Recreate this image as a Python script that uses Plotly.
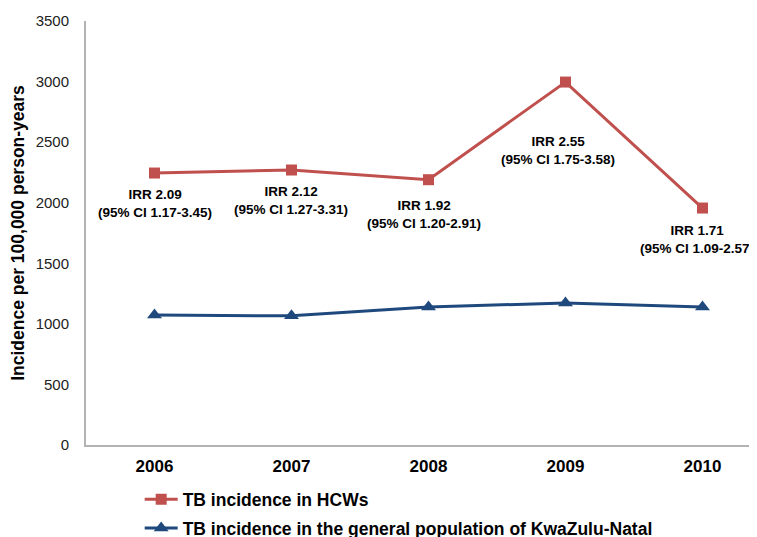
import plotly.graph_objects as go

years = ["2006", "2007", "2008", "2009", "2010"]
hcw = [2245, 2270, 2190, 2996, 1956]
general = [1073, 1066, 1140, 1172, 1140]
irr_labels = [
    "IRR 2.09<br>(95% CI 1.17-3.45)",
    "IRR 2.12<br>(95% CI 1.27-3.31)",
    "IRR 1.92<br>(95% CI 1.20-2.91)",
    "IRR 2.55<br>(95% CI 1.75-3.58)",
    "IRR 1.71<br>(95% CI 1.09-2.57)",
]
y_ticks = [0, 500, 1000, 1500, 2000, 2500, 3000, 3500]

RED = "#C0504D"
BLUE = "#1F497D"
FONT = "Liberation Sans, Arial, sans-serif"

fig = go.Figure()
fig.add_trace(go.Scatter(
    x=years, y=hcw, mode="lines+markers", name="<b>TB incidence in HCWs</b>",
    line=dict(color=RED, width=3), marker=dict(symbol="square", size=11, color=RED),
    legendgroup="a",
))
fig.add_trace(go.Scatter(
    x=years, y=general, mode="lines+markers",
    name="<b>TB incidence in the general population of KwaZulu-Natal</b>",
    line=dict(color=BLUE, width=3), marker=dict(symbol="triangle-up", size=13, color=BLUE),
    legendgroup="b",
))

# label offsets (pixels) relative to HCW points
offs = [(0, -30), (0, -30), (-4, -35), (-7, -68), (-5, -31)]
annos = []
for i, (lab, (dx, dy)) in enumerate(zip(irr_labels, offs)):
    annos.append(dict(
        x=i, y=hcw[i], xref="x", yref="y", text="<b>" + lab + "</b>", showarrow=False,
        xshift=dx, yshift=dy, font=dict(family=FONT, size=13.5, color="#000000"),
        align="center",
    ))

fig.update_layout(
    width=749, height=529,
    margin=dict(l=78, r=0, t=13, b=92, autoexpand=False),
    paper_bgcolor="white", plot_bgcolor="white",
    font=dict(family=FONT, color="#000000"),
    showlegend=True,
    annotations=annos,
    legend=dict(
        x=0.08, y=-0.086, xanchor="left", yanchor="top",
        font=dict(family=FONT, size=17.5, color="#000000"),
        tracegroupgap=3, traceorder="grouped",
        bgcolor="rgba(0,0,0,0)", itemwidth=33,
    ),
    xaxis=dict(
        type="category", range=[-0.5, 4.398], showgrid=False,
        showline=True, linecolor="#B3B3B3", linewidth=2,
        ticks="", tickfont=dict(family=FONT, size=17, color="#000000", weight="bold"),
        ticklabelstandoff=5,
    ),
    yaxis=dict(
        range=[0, 3500], tickvals=y_ticks, showgrid=False, zeroline=False,
        showline=True, linecolor="#B3B3B3", linewidth=2, ticks="",
        tickfont=dict(family=FONT, size=15, color="#222222"),
        ticklabelstandoff=12,
        title=dict(text="<b>Incidence per 100,000 person-years</b>",
                   font=dict(family=FONT, size=17.5, color="#000000"), standoff=10),
    ),
)
fig.update_traces(cliponaxis=False)

fig.write_html("out.html")
